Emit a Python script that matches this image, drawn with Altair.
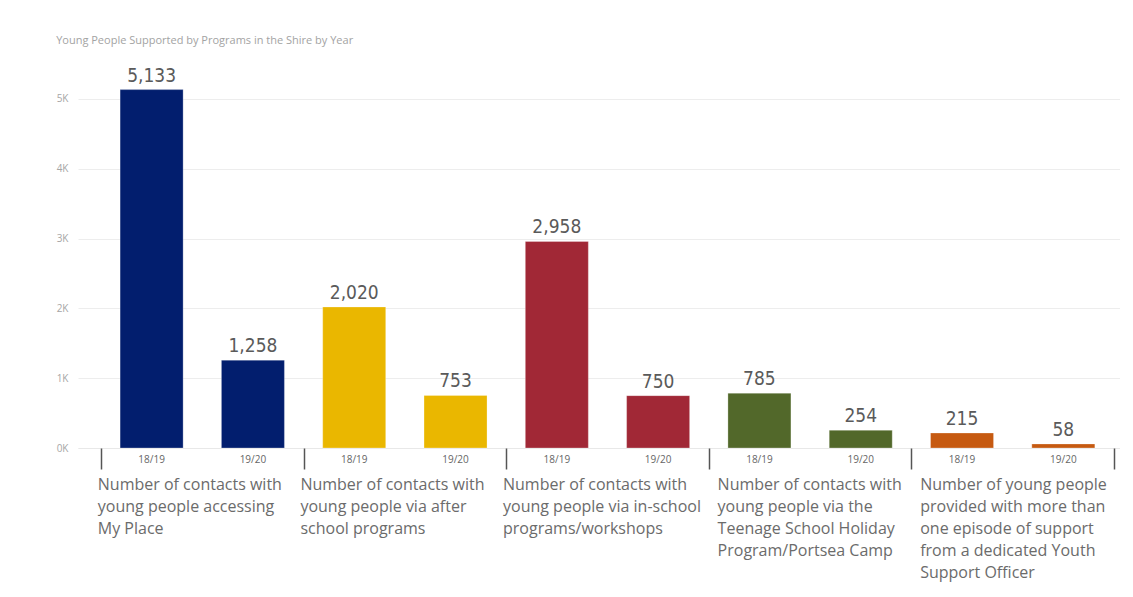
import altair as alt
import pandas as pd

categories = [
    "Number of contacts with|young people accessing|My Place",
    "Number of contacts with|young people via after|school programs",
    "Number of contacts with|young people via in-school|programs/workshops",
    "Number of contacts with|young people via the|Teenage School Holiday|Program/Portsea Camp",
    "Number of young people|provided with more than|one episode of support|from a dedicated Youth|Support Officer",
]
years = ["18/19", "19/20"]
values_1819 = [5133, 2020, 2958, 785, 215]
values_1920 = [1258, 753, 750, 254, 58]
colors = ["#021E6E", "#EAB700", "#A12836", "#52682A", "#C65A11"]

rows = []
for i, c in enumerate(categories):
    for y, v in zip(years, [values_1819[i], values_1920[i]]):
        rows.append({"cat": c, "year": y, "key": f"{i}#{y}", "value": v})
df = pd.DataFrame(rows)
key_order = list(df["key"])

W = 1042
H = 384

x_bar = alt.X(
    "key:N",
    sort=key_order,
    scale=alt.Scale(paddingInner=0.378, paddingOuter=0.332, align=0.626),
    axis=alt.Axis(
        orient="bottom", title=None, labelAngle=0, ticks=False,
        labelExpr="split(datum.label, '#')[1]",
        labelFont="Open Sans", labelFontSize=10, labelColor="#666666",
        labelPadding=6, domainColor="#e8e8e8", domainWidth=1,
        labelOverlap=False,
    ),
)
y_enc = alt.Y(
    "value:Q",
    scale=alt.Scale(domain=[0, 5500], nice=False),
    axis=alt.Axis(
        title=None, values=[0, 1000, 2000, 3000, 4000, 5000],
        labelExpr="(datum.value / 1000) + 'K'", ticks=False, domain=False,
        labelFont="Open Sans", labelFontSize=10, labelColor="#a6a6a6",
        labelPadding=10, gridColor="#ededed", gridWidth=1,
    ),
)
color_enc = alt.Color(
    "cat:N", scale=alt.Scale(domain=categories, range=colors), legend=None
)

bars = alt.Chart(df).mark_bar(stroke="#ffffff", strokeOpacity=0.35, strokeWidth=0.8).encode(
    x=x_bar, y=y_enc, color=color_enc
)
labels = alt.Chart(df).mark_text(
    baseline="alphabetic", dy=-8, fontSize=19, color="#5a5a5a",
    font="DejaVu Sans Condensed",
).encode(x=x_bar, y=y_enc, text=alt.Text("value:Q", format=","))

inner = alt.layer(bars, labels)

cat_layer = alt.Chart(df).mark_point(opacity=0).encode(
    x=alt.X(
        "cat:N",
        sort=categories,
        scale=alt.Scale(paddingInner=0, paddingOuter=0.0716, align=0.793),
        axis=alt.Axis(
            orient="bottom", title=None, labelAngle=0, tickBand="extent",
            tickSize=21, tickColor="#555555", tickWidth=1.5, domain=False,
            labelExpr="split(datum.label, '|')", labelAlign="left",
            labelBaseline="top",
            labelOffset={"condition": {"test": "datum.index > 0.6", "value": -93}, "value": -105},
            labelPadding=7,
            labelFont="Open Sans", labelFontSize=16, labelColor="#6b6b6b",
            labelLineHeight=22, labelLimit=400, labelOverlap=False,
            labelFlush=False, labelBound=False,
        ),
    ),
    y=alt.Y("value:Q"),
)

chart = (
    alt.layer(inner, cat_layer)
    .resolve_scale(x="independent")
    .properties(
        width=W, height=H,
        padding={"left": 48, "top": 27, "right": 0, "bottom": 2},
        title=alt.TitleParams(
            "Young People Supported by Programs in the Shire by Year",
            anchor="start", frame="bounds", fontSize=11, color="#a3a3a3",
            font="Open Sans", fontWeight="normal", offset=18,
        ),
    )
    .configure_view(stroke=None)
)

chart.save("out.html", embed_options={"renderer": "svg", "actions": False})
